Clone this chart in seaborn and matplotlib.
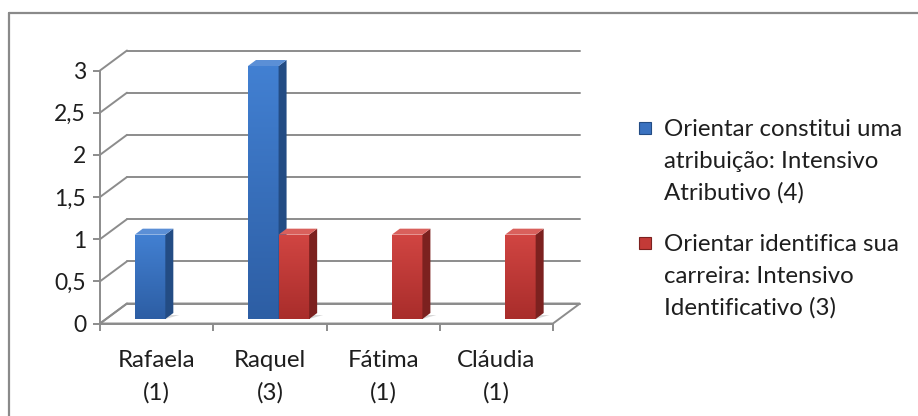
import numpy as np
import pandas as pd
import matplotlib
matplotlib.use("Agg")
import matplotlib.pyplot as plt
import seaborn as sns
from matplotlib.transforms import ScaledTranslation
from matplotlib.patches import Polygon, Rectangle
from matplotlib.lines import Line2D

# ---- data -------------------------------------------------------------
categories = ["Rafaela\n(1)", "Raquel\n(3)", "Fátima\n(1)", "Cláudia\n(1)"]
series = [
    "Orientar constitui uma\natribuição: Intensivo\nAtributivo (4)",
    "Orientar identifica sua\ncarreira: Intensivo\nIdentificativo (3)",
]
intensivo_atributivo = [1, 3, 0, 0]
intensivo_identificativo = [0, 1, 1, 1]
y_ticks = [0, 0.5, 1, 1.5, 2, 2.5, 3]
y_tick_labels = ["0", "0,5", "1", "1,5", "2", "2,5", "3"]

# ---- style ------------------------------------------------------------
W, H = 918, 416
sns.set_theme(style="white")
plt.rcParams["font.family"] = ["Lato", "DejaVu Sans"]

FONT = 17.3
TICK_FONT = 16.5
LINESPACING = 1.62
TEXT = "#1e1e1e"
GRID = "#8c8c8c"
# front / side / top / gradient-top / gradient-bottom per series
shades = [
    dict(face="#3a72c0", side="#234c84", top="#5b8fd6", light="#4280d2", dark="#2d5ea4"),
    dict(face="#c33a37", side="#7c211f", top="#d9605c", light="#d14542", dark="#a92d2b"),
]
palette = [s["face"] for s in shades]

DEPTH = (27, 20)      # floor / wall depth in pixels
BAR_SHIFT = (8.7, 4.5)
BAR_DEPTH = (8, 6)

df = pd.DataFrame({
    "pessoa": categories * 2,
    "serie": [series[0]] * len(categories) + [series[1]] * len(categories),
    "valor": intensivo_atributivo + intensivo_identificativo,
})

fig = plt.figure(figsize=(W / 100, H / 100), dpi=100)
fig.patch.set_facecolor("white")


def px_box(left, top, right, bottom):
    return [left / W, 1 - bottom / H, (right - left) / W, (bottom - top) / H]


ax = fig.add_axes(px_box(100, 70.5, 553, 323.5))
ax.set_facecolor("none")
sns.barplot(data=df, x="pessoa", y="valor", hue="serie", palette=palette,
            width=0.54, saturation=1, errorbar=None, legend=False, ax=ax,
            linewidth=0)
ax.set_xlim(-0.5, len(categories) - 0.5)
ax.set_ylim(0, 3)


def shifted(points, dx, dy):
    disp = ax.transData.transform(np.asarray(points, float)) + np.array([dx, dy])
    return ax.transData.inverted().transform(disp)


x_lo, x_hi = ax.get_xlim()

# floor
front_edge = [(x_lo, 0), (x_hi, 0)]
back_edge = shifted(front_edge, *DEPTH)
ax.add_patch(Polygon([front_edge[0], front_edge[1], back_edge[1], back_edge[0]],
                     closed=True, facecolor="white", edgecolor=GRID, lw=1.4,
                     clip_on=False, zorder=0.5))

# back wall gridlines and side wall diagonals
for yv in y_ticks:
    b = shifted([(x_lo, yv), (x_hi, yv)], *DEPTH)
    ax.plot(b[:, 0], b[:, 1], color=GRID, lw=1.4, clip_on=False, zorder=0.6)
    ax.plot([x_lo, b[0, 0]], [yv, b[0, 1]], color=GRID, lw=1.4,
            clip_on=False, zorder=0.6)

# bars with depth faces
bar_trans = ax.transData + ScaledTranslation(BAR_SHIFT[0] / 100, BAR_SHIFT[1] / 100,
                                             fig.dpi_scale_trans)
n_cat = len(categories)
for i, patch in enumerate(list(ax.patches)):
    if not isinstance(patch, Rectangle):
        continue
    h = patch.get_height()
    s = shades[min(i // n_cat, 1)]
    if h <= 0:
        patch.set_visible(False)
        continue
    z = 2 + i * 0.1
    x0, w = patch.get_x(), patch.get_width()
    patch.set_transform(bar_trans)
    patch.set_zorder(z)
    front = shifted([(x0, 0), (x0 + w, 0), (x0 + w, h), (x0, h)], *BAR_SHIFT)
    # soft floor shadow
    shadow = np.array([front[0], front[1],
                       shifted([front[1]], BAR_DEPTH[0] + 6, BAR_DEPTH[1] - 2)[0],
                       shifted([front[0]], BAR_DEPTH[0] + 6, BAR_DEPTH[1] - 2)[0]])
    ax.add_patch(Polygon(shadow, closed=True, facecolor="#d8d8d8", edgecolor="none",
                         clip_on=False, zorder=1.5))
    # vertical gradient on the front face
    grad = np.linspace(0, 1, 64)[:, None, None]
    c1 = np.array(matplotlib.colors.to_rgb(s["light"]))
    c2 = np.array(matplotlib.colors.to_rgb(s["dark"]))
    img = (1 - grad) * c1 + grad * c2
    im = ax.imshow(img, extent=(x0, x0 + w, 0, h), aspect="auto",
                   transform=bar_trans, zorder=z + 0.01, interpolation="bilinear")
    im.set_clip_path(patch)
    back = shifted(front, *BAR_DEPTH)
    ax.add_patch(Polygon([front[1], front[2], back[2], back[1]], closed=True,
                         facecolor=s["side"], edgecolor="none", clip_on=False,
                         zorder=z + 0.02))
    ax.add_patch(Polygon([front[3], front[2], back[2], back[3]], closed=True,
                         facecolor=s["top"], edgecolor="none", clip_on=False,
                         zorder=z + 0.02))

ax.set_xlim(x_lo, x_hi)
ax.set_ylim(0, 3)

# axes lines and ticks
for side in ("top", "right"):
    ax.spines[side].set_visible(False)
for side in ("left", "bottom"):
    ax.spines[side].set_color(GRID)
    ax.spines[side].set_linewidth(1.4)
    ax.spines[side].set_zorder(3)
ax.set_yticks(y_ticks, y_tick_labels)
ax.set_xticks(np.arange(n_cat + 1) - 0.5, [""] * (n_cat + 1))
ax.set_xticks(np.arange(n_cat), categories, minor=True)
ax.tick_params(axis="y", direction="out", length=5, width=1.4, color=GRID,
               pad=5, labelsize=TICK_FONT, labelcolor=TEXT, left=True)
ax.tick_params(axis="x", which="major", direction="out", length=5, width=1.4,
               color=GRID, bottom=True)
ax.tick_params(axis="x", which="minor", length=0, pad=19, labelsize=FONT,
               labelcolor=TEXT, bottom=True)
for t in ax.get_xticklabels(minor=True):
    t.set_linespacing(LINESPACING)
ax.set_xlabel("")
ax.set_ylabel("")
ax.grid(False)

# legend
for k, (label, s) in enumerate(zip(series, shades)):
    first_line_y = [128, 243][k]
    fig.add_artist(Rectangle((639 / W, 1 - (first_line_y + 6) / H), 12 / W, 12 / H,
                             transform=fig.transFigure, facecolor=s["face"],
                             edgecolor=s["side"], lw=0.8))
    fig.text(664 / W, 1 - (first_line_y + 33.5) / H, label, ha="left", va="center",
             fontsize=FONT, color=TEXT, linespacing=LINESPACING)

# chart border
fig.add_artist(Line2D([9 / W, 1], [1 - 13 / H] * 2, transform=fig.transFigure,
                      color="#8a8a8a", lw=1.6))
fig.add_artist(Line2D([9 / W, 9 / W], [0, 1 - 13 / H], transform=fig.transFigure,
                      color="#8a8a8a", lw=1.6))

fig.savefig("out.png", dpi=100, facecolor="white")
